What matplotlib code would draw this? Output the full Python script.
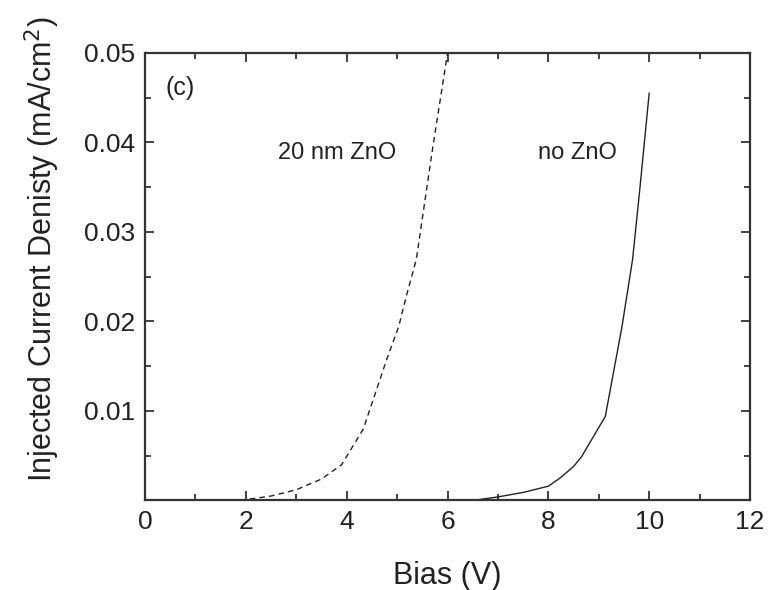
import matplotlib
matplotlib.use('Agg')
import matplotlib.pyplot as plt
from matplotlib.ticker import MultipleLocator

plt.rcParams['font.family'] = ['Liberation Sans', 'DejaVu Sans']

# 20 nm ZnO (dashed)
bias_zno = [1.5, 2.0, 2.5, 3.0, 3.5, 3.9, 4.33, 4.79, 5.03, 5.2, 5.38, 5.69, 6.0]
j_zno = [0.0, 0.0001, 0.0005, 0.0012, 0.0024, 0.0040, 0.0080, 0.0157, 0.0194,
         0.0232, 0.0269, 0.0388, 0.050]

# no ZnO (solid)
bias_bare = [6.5, 7.0, 7.5, 8.0, 8.23, 8.5, 8.66, 9.13, 9.46, 9.67, 9.82, 10.0]
j_bare = [0.0, 0.0004, 0.0009, 0.0016, 0.0025, 0.0038, 0.0049, 0.0094, 0.0194,
          0.0269, 0.0351, 0.0455]

yticks = [0.01, 0.02, 0.03, 0.04, 0.05]
ytick_labels = ['0.01', '0.02', '0.03', '0.04', '0.05']

fig = plt.figure(figsize=(7.69, 5.90), dpi=100)
ax = fig.add_axes([0.1886, 0.1517, 0.9753 - 0.1886, 0.9102 - 0.1517])

ax.plot(bias_zno, j_zno, color='#222222', lw=1.0, dashes=(4, 3))
ax.plot(bias_bare, j_bare, color='#222222', lw=1.0)

ax.set_xlim(0, 12)
ax.set_ylim(0, 0.05)
ax.xaxis.set_major_locator(MultipleLocator(2))
ax.xaxis.set_minor_locator(MultipleLocator(1))
ax.set_yticks(yticks)
ax.set_yticklabels(ytick_labels)
ax.yaxis.set_minor_locator(MultipleLocator(0.005))

ax.tick_params(which='both', direction='in', top=True, right=True,
               width=1.3, colors='#333333', labelcolor='#222222')
ax.tick_params(which='major', length=6.5, labelsize=19, pad=7)
ax.tick_params(which='minor', length=4.2)
for s in ax.spines.values():
    s.set_linewidth(1.6)
    s.set_color('#333333')

ax.set_xlabel('Bias (V)', fontsize=22, color='#222222', labelpad=19)
ax.set_ylabel('Injected Current Denisty (mA/cm$^2$)', fontsize=22,
              color='#222222')
ax.yaxis.set_label_coords(-0.137, 0.562)

ax.text(0.4, 0.0461, '(c)', fontsize=18, color='#222222', va='center')
ax.text(2.64, 0.0388, '20 nm ZnO', fontsize=17, color='#222222', va='center')
ax.text(7.8, 0.0388, 'no ZnO', fontsize=17, color='#222222', va='center')

fig.savefig('out.png', dpi=100)
